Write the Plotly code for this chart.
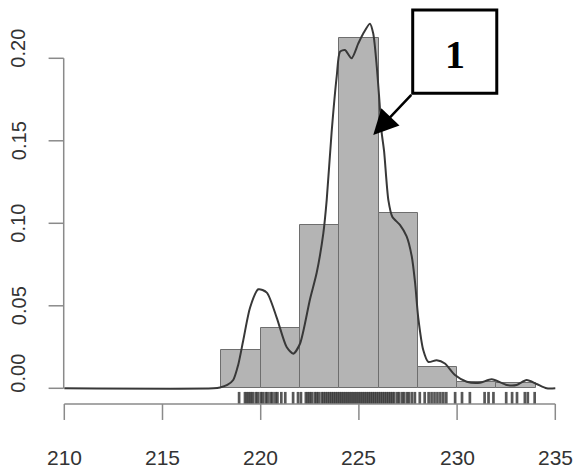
import plotly.graph_objects as go

# ---- data ----
bin_edges = [218, 220, 222, 224, 226, 228, 230, 232, 234]
bin_density = [0.023, 0.0365, 0.099, 0.212, 0.106, 0.013, 0.004, 0.003]

dens_x = [210, 217.6, 217.93, 218.3, 218.6, 218.85, 219.11, 219.46, 219.88, 220.31,
          220.81, 221.32, 221.66, 222.0, 222.51, 222.85, 223.19, 223.36, 223.61, 223.87,
          224.04, 224.29, 224.63, 224.97, 225.22, 225.56, 225.73, 225.91, 226.04, 226.16,
          226.28, 226.5, 226.7, 227.09, 227.43, 227.69, 227.86, 228.02, 228.28, 228.53,
          228.96, 229.38, 229.89, 230.49, 231.17, 231.76, 232.53, 233.03, 233.54, 234.05,
          234.56, 235.0]
dens_y = [0, 0, 0.0005, 0.002, 0.005, 0.014, 0.029, 0.049, 0.060, 0.058,
          0.043, 0.025, 0.021, 0.027, 0.054, 0.070, 0.094, 0.114, 0.155, 0.189,
          0.204, 0.205, 0.200, 0.209, 0.215, 0.221, 0.215, 0.195, 0.175, 0.155,
          0.144, 0.114, 0.104, 0.099, 0.092, 0.080, 0.064, 0.043, 0.023, 0.016,
          0.017, 0.015, 0.008, 0.004, 0.0034, 0.0055, 0.002, 0.002, 0.005, 0.0026,
          0.0, 0.0]

rug_x = [218.9,
         219.2, 219.3, 219.4, 219.5, 219.6, 219.75, 219.85, 220.0, 220.1, 220.25,
         220.35, 220.5, 220.6, 220.75, 220.85,
         221.05, 221.25, 221.65, 221.9, 222.05,
         222.3, 222.4, 222.5, 222.6, 222.75, 222.85, 222.95, 223.1, 223.2, 223.3,
         223.4, 223.5, 223.6, 223.7, 223.8, 223.9,
         224.0, 224.1, 224.2, 224.3, 224.4, 224.5, 224.6, 224.7, 224.8, 224.9,
         225.0, 225.1, 225.2, 225.3, 225.4, 225.5, 225.6, 225.7, 225.8, 225.9,
         226.0, 226.1, 226.2, 226.3, 226.4, 226.5, 226.6, 226.7,
         226.8, 226.95, 227.05, 227.2, 227.3, 227.45, 227.55, 227.7, 227.85,
         228.1, 228.35,
         228.55, 228.7, 228.85, 229.0, 229.15, 229.3, 229.45,
         229.9, 230.25, 230.65, 231.4, 231.6, 231.85, 232.5, 232.8, 233.05,
         233.45, 233.6, 233.95]

x_ticks = [210, 215, 220, 225, 230, 235]
y_ticks = [0.00, 0.05, 0.10, 0.15, 0.20]
y_tick_labels = ["0.00", "0.05", "0.10", "0.15", "0.20"]
label_text = "1"

# ---- geometry of the page (in data units) ----
X_RANGE = [206.726, 236.003]
Y_RANGE = [-0.05255, 0.23533]
RUG_TOP, RUG_BOT = -0.0022, -0.0095
XAX_Y, XTICK_END, XLAB_Y = -0.0095, -0.0192, -0.0422
YAX_X, YTICK_END, YLAB_X = 209.97, 209.2, 207.66
Y_LABEL_SHIFT = [15, 0, 0, 0, 10]   # pixel nudges of the y tick labels

fig = go.Figure()

# histogram bars
centers = [(a + b) / 2 for a, b in zip(bin_edges[:-1], bin_edges[1:])]
widths = [b - a for a, b in zip(bin_edges[:-1], bin_edges[1:])]
fig.add_trace(go.Bar(x=centers, y=bin_density, width=widths,
                     marker=dict(color="#b4b4b4", line=dict(color="#6e6e6e", width=1)),
                     hoverinfo="skip"))

# density curve
fig.add_trace(go.Scatter(x=dens_x, y=dens_y, mode="lines",
                         line=dict(color="#383838", width=2, shape="spline", smoothing=0.7),
                         hoverinfo="skip"))

# rug
rx, ry = [], []
for v in rug_x:
    rx += [v, v, None]
    ry += [RUG_TOP, RUG_BOT, None]
fig.add_trace(go.Scatter(x=rx, y=ry, mode="lines",
                         line=dict(color="rgba(45,45,45,0.8)", width=2.7), hoverinfo="skip"))

shapes = []
annotations = []
axis_col = "#8a8a8a"
# x axis
shapes.append(dict(type="line", xref="x", yref="y", x0=x_ticks[0], x1=x_ticks[-1],
                   y0=XAX_Y, y1=XAX_Y, line=dict(color=axis_col, width=1.5)))
for t in x_ticks:
    shapes.append(dict(type="line", xref="x", yref="y", x0=t, x1=t, y0=XAX_Y, y1=XTICK_END,
                       line=dict(color=axis_col, width=1.5)))
    annotations.append(dict(x=t, y=XLAB_Y, xref="x", yref="y", text=str(t), showarrow=False,
                            font=dict(family="Liberation Sans, Arial", size=21, color="#333333")))
# y axis
shapes.append(dict(type="line", xref="x", yref="y", x0=YAX_X, x1=YAX_X,
                   y0=y_ticks[0], y1=y_ticks[-1], line=dict(color=axis_col, width=1.5)))
for t, lab, sh in zip(y_ticks, y_tick_labels, Y_LABEL_SHIFT):
    shapes.append(dict(type="line", xref="x", yref="y", x0=YAX_X, x1=YTICK_END, y0=t, y1=t,
                       line=dict(color=axis_col, width=1.5)))
    annotations.append(dict(x=YLAB_X, y=t, xref="x", yref="y", text=lab, showarrow=False,
                            textangle=-90, yshift=sh,
                            font=dict(family="Liberation Sans, Arial", size=20, color="#333333")))

# callout box with "1"
shapes.append(dict(type="rect", xref="x", yref="y", x0=227.74, x1=232.02, y0=0.1788, y1=0.2293,
                   line=dict(color="black", width=3), fillcolor="white"))
annotations.append(dict(x=229.88, y=0.2025, xref="x", yref="y", text="<b>%s</b>" % label_text,
                        showarrow=False,
                        font=dict(family="Liberation Serif, Times New Roman", size=40, color="black")))
annotations.append(dict(x=225.73, y=0.1535, xref="x", yref="y", ax=227.74, ay=0.1788,
                        axref="x", ayref="y", text="", showarrow=True,
                        arrowhead=2, arrowsize=2, arrowwidth=2.5, arrowcolor="black"))

fig.update_layout(
    width=575, height=475,
    margin=dict(l=0, r=0, t=0, b=0),
    paper_bgcolor="white", plot_bgcolor="white",
    showlegend=False, bargap=0,
    xaxis=dict(range=X_RANGE, visible=False, fixedrange=True),
    yaxis=dict(range=Y_RANGE, visible=False, fixedrange=True),
    shapes=shapes, annotations=annotations,
)

fig.write_html("out.html")
